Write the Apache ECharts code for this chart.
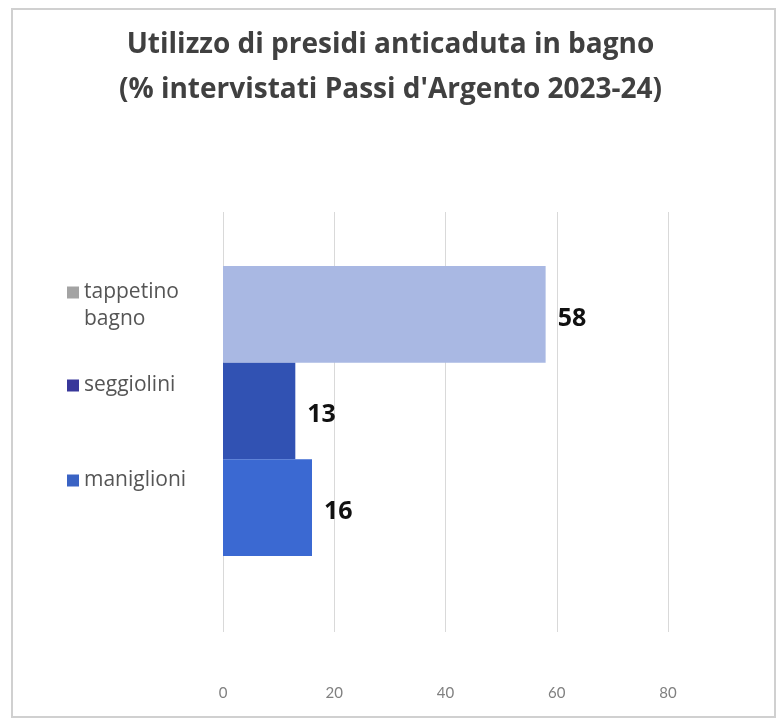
<!DOCTYPE html>
<html>
<head>
<meta charset="utf-8">
<script src="https://cdn.jsdelivr.net/npm/echarts@6/dist/echarts.min.js"></script>
<style>
  html, body { margin: 0; padding: 0; background: #fff; }
  #main { width: 781px; height: 724px; }
</style>
</head>
<body>
<div id="main"></div>
<script>
// dati
var categories = ['presidi'];
var seriesNames = ['tappetino bagno', 'seggiolini', 'maniglioni']; // dall'alto verso il basso
var seriesValues = [58, 13, 16];
var barColors = ['#a9b8e3', '#3152b3', '#3b69d2'];
var legendColors = ['#a3a3a3', '#38379a', '#3a63c4'];
var legendTops = [247, 367, 462];
var xTicks = [0, 20, 40, 60, 80];

var chartDom = document.getElementById('main');
var myChart = echarts.init(chartDom);
var option;

// una legenda per voce, allineata alla sua barra
var legends = seriesNames.map(function (name, i) {
    return {
        orient: 'vertical',
        left: 62,
        top: legendTops[i],
        itemWidth: 12,
        itemHeight: 12,
        icon: 'rect',
        data: [{ name: name, itemStyle: { color: legendColors[i] } }],
        // nome su due righe: riga vuota sopra così il quadratino resta sulla prima riga
        formatter: function (n) {
            return n.indexOf(' ') > 0 ? ' \n' + n.replace(' ', '\n') : n;
        },
        textStyle: { fontFamily: 'Open Sans', fontSize: 21, color: '#555', lineHeight: 27 }
    };
});

var xAxisBase = {
    type: 'value',
    min: xTicks[0],
    max: xTicks[xTicks.length - 1],
    interval: xTicks[1] - xTicks[0],
    axisLine: { show: false },
    axisTick: { show: false }
};

option = {
    backgroundColor: '#fff',
    textStyle: { fontFamily: 'Open Sans' },
    title: {
        text: "Utilizzo di presidi anticaduta in bagno\n(% intervistati Passi d'Argento 2023-24)",
        left: 'center',
        top: 18,
        textStyle: { fontFamily: 'Open Sans', fontSize: 28, fontWeight: 'bold', color: '#404040', lineHeight: 45 }
    },
    legend: legends,
    grid: [
        { left: 223, right: 113, top: 212, bottom: 92 },   // griglia e etichette
        { left: 223, right: 113, top: 201, bottom: 103 }   // barre
    ],
    xAxis: [
        Object.assign({}, xAxisBase, {
            gridIndex: 0,
            axisLabel: { margin: 54, fontSize: 15, color: '#808080', fontFamily: 'Lato' },
            splitLine: { lineStyle: { color: '#d9d9d9' } }
        }),
        Object.assign({}, xAxisBase, {
            gridIndex: 1,
            axisLabel: { show: false },
            splitLine: { show: false }
        })
    ],
    yAxis: [0, 1].map(function (g) {
        return {
            type: 'category',
            gridIndex: g,
            inverse: true,
            data: categories,
            axisLine: { show: false },
            axisTick: { show: false },
            axisLabel: { show: false }
        };
    }),
    series: seriesNames.map(function (name, i) {
        return {
            name: name,
            type: 'bar',
            xAxisIndex: 1,
            yAxisIndex: 1,
            data: [seriesValues[i]],
            barGap: '0%',
            barCategoryGap: '31%',
            itemStyle: { color: barColors[i] },
            label: {
                show: true,
                position: 'right',
                distance: 12,
                offset: [0, 4],
                fontFamily: 'Open Sans',
                fontSize: 25,
                fontWeight: 'bold',
                color: '#111'
            }
        };
    }),
    graphic: [{
        type: 'rect',
        shape: { x: 12, y: 9, width: 763, height: 708 },
        style: { fill: 'none', stroke: '#d0d0d0', lineWidth: 2 },
        silent: true
    }]
};

option && myChart.setOption(option);
</script>
</body>
</html>
